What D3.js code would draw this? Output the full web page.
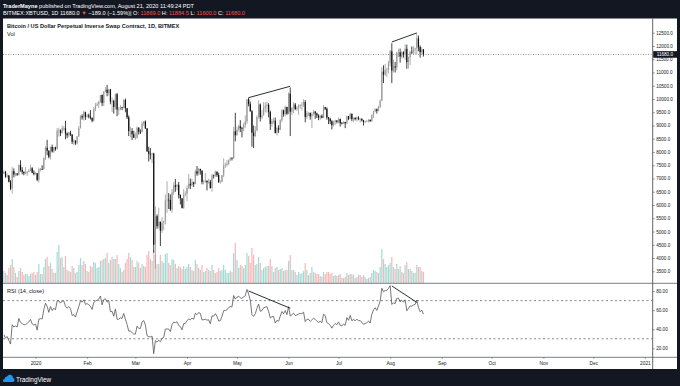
<!DOCTYPE html>
<html>
<head>
<meta charset="utf-8">
<script src="https://cdn.jsdelivr.net/npm/d3@7"></script>
<style>
  body { margin: 0; background: #131722; }
  svg { display: block; font-family: "Liberation Sans", Arial, sans-serif; }
</style>
</head>
<body>
<svg id="chart" width="680" height="386"></svg>
<script>
// daily bars of BITMEX:XBTUSD, first bar 2019-12-13, last bar 2020-08-21
var firstDay = "2019-12-13";

// closes before the first visible bar, only used to warm up the RSI
var warmupCloses = [8760, 8630, 8460, 8490, 8500, 8170, 8120, 8080, 7620, 7280, 7320, 6900, 7130, 7160, 7520,
  7430, 7750, 7560, 7400, 7310, 7300, 7200, 7390, 7540, 7510, 7520, 7340, 7220, 7200, 7190];

var highs = [
  // Dec
  7310, 7290, 7190, 7140, 6940, 7440, 7380, 7220, 7200, 7530, 7690, 7430, 7270, 7430, 7280, 7360, 7520, 7430, 7310,
  // Jan
  7250, 7210, 7410, 7400, 7500, 7800, 8220, 8460, 8060, 8200, 8280, 8190, 8200, 8900, 8920, 8850, 9000, 8980, 9180, 8740,
  8760, 8800, 8670, 8500, 8440, 8600, 8980, 9390, 9420, 9560, 9520,
  // Feb
  9430, 9450, 9580, 9300, 9700, 9850, 9870, 9940, 10160, 10170, 10300, 10450, 10530, 10380, 10380, 10060, 9970, 10200,
  10230, 9700, 9770, 9700, 9990, 10020, 9660, 9380, 8950, 8900, 8800,
  // Mar
  8740, 8960, 8940, 8850, 9140, 9170, 9190, 8900, 8200, 8150, 7970, 7970, 5950, 5650, 5900, 5370, 5550, 5400, 6400, 6900,
  6450, 6400, 6600, 6860, 6980, 6800, 6870, 6400, 6260, 6600, 6520,
  // Apr
  6740, 7170, 7000, 6980, 6880, 7340, 7470, 7400, 7370, 7300, 6950, 7200, 6920, 6990, 6950, 7180, 7150, 7300, 7260, 7220,
  6940, 7140, 7760, 7600, 7700, 7720, 7800, 7800, 8950, 9480,
  // May
  8950, 9030, 9200, 8950, 9100, 9380, 9980, 10050, 9900, 9580, 9000, 8980, 9380, 9950, 9830, 9580, 9880, 9880, 9890, 9840,
  9560, 9250, 9300, 9300, 8960, 9010, 9230, 9620, 9600, 9750, 9700,
  // Jun
  10250, 10430, 9700, 9880, 9850, 9730, 9800, 9800, 9880, 9990, 9960, 9550, 9500, 9490, 9500, 9580, 9550, 9480, 9420, 9400,
  9420, 9770, 9700, 9680, 9320, 9290, 9200, 9180, 9220, 9200,
  // Jul
  9300, 9260, 9130, 9160, 9140, 9370, 9360, 9480, 9450, 9300, 9310, 9340, 9350, 9280, 9270, 9210, 9180, 9200, 9240, 9230,
  9420, 9550, 9650, 9640, 9740, 9980, 11200, 11270, 11320, 11180, 11440,
  // Aug
  11850, 12100, 11480, 11400, 11780, 11900, 11900, 11800, 11800, 12060, 12050, 11600, 11800, 11980, 11990, 11940, 12470,
  12390, 12020, 11950, 11884.5
];

var lows = [
  // Dec
  7170, 7030, 7020, 6850, 6560, 6430, 7040, 7080, 7100, 7120, 7260, 7160, 7120, 7160, 7090, 7230, 7270, 7200, 7120,
  // Jan
  7150, 6900, 6850, 7270, 7320, 7340, 7700, 7880, 7760, 7720, 7980, 7970, 8050, 8100, 8580, 8600, 8690, 8800, 8480, 8520,
  8550, 8600, 8300, 8250, 8270, 8280, 8560, 8880, 9220, 9180, 9210,
  // Feb
  9300, 9270, 9230, 9120, 9150, 9540, 9720, 9650, 9860, 9730, 9740, 10250, 10100, 10130, 9800, 9500, 9450, 9600, 9350,
  9400, 9580, 9580, 9650, 9500, 9250, 8600, 8550, 8450, 8530,
  // Mar
  8450, 8500, 8660, 8680, 8740, 8990, 8870, 8000, 7640, 7720, 7580, 4200, 3600, 5100, 5120, 4450, 4950, 5050, 5270, 5700,
  5850, 5780, 5700, 6380, 6500, 6550, 6250, 6020, 5880, 5860, 6330,
  // Apr
  6150, 6600, 6600, 6700, 6680, 6790, 7100, 7120, 7150, 6780, 6780, 6830, 6550, 6800, 6620, 6500, 7000, 7050, 7060, 6840,
  6810, 6860, 7050, 7400, 7450, 7500, 7650, 7680, 7740, 8400,
  // May
  8620, 8780, 8750, 8550, 8780, 8920, 9050, 9720, 9520, 8200, 8150, 8570, 8780, 9260, 9150, 9240, 9380, 9500, 9480, 9310,
  8830, 8950, 9070, 8700, 8620, 8720, 8830, 9120, 9330, 9360, 9400,
  // Jun
  9420, 8600, 9400, 9470, 9580, 9550, 9400, 9630, 9560, 9700, 9120, 9250, 9360, 9220, 8900, 9380, 9250, 9280, 9200, 9200,
  9270, 9280, 9580, 9220, 9050, 9050, 8850, 8960, 9020, 9080,
  // Jul
  9080, 8960, 9040, 9050, 8900, 9060, 9200, 9230, 9160, 9120, 9190, 9150, 9200, 9110, 9150, 9000, 9090, 9130, 9110, 9140,
  9150, 9280, 9500, 9450, 9540, 9660, 9930, 10600, 10880, 10830, 10970,
  // Aug
  11230, 10600, 11000, 11000, 11080, 11580, 11370, 11520, 11560, 11480, 11140, 11150, 11280, 11700, 11690, 11700, 11690,
  11800, 11560, 11650, 11600
];

var closes = [
  // Dec
  7250, 7070, 7110, 6880, 6620, 7280, 7150, 7190, 7140, 7510, 7320, 7250, 7200, 7200, 7250, 7300, 7390, 7220, 7170,
  // Jan
  7200, 6950, 7340, 7360, 7350, 7760, 8160, 8050, 7820, 8190, 8020, 8180, 8110, 8810, 8810, 8720, 8900, 8900, 8700, 8630,
  8730, 8660, 8390, 8430, 8330, 8590, 8900, 9350, 9300, 9500, 9330,
  // Feb
  9380, 9340, 9290, 9180, 9620, 9750, 9800, 9890, 10150, 9850, 10270, 10350, 10230, 10360, 9900, 9930, 9700, 10180, 9600,
  9600, 9690, 9660, 9960, 9650, 9310, 8790, 8790, 8670, 8540,
  // Mar
  8540, 8910, 8760, 8750, 9070, 9150, 8890, 8030, 7930, 7900, 7940, 4500, 5580, 5200, 5370, 5030, 5330, 5400, 6180, 6200,
  6190, 5830, 6480, 6740, 6690, 6760, 6380, 6250, 5880, 6400, 6420,
  // Apr
  6640, 6800, 6740, 6860, 6790, 7270, 7180, 7360, 7300, 6870, 6890, 6920, 6860, 6880, 6640, 7120, 7100, 7260, 7130, 6860,
  6880, 7120, 7490, 7510, 7550, 7700, 7780, 7760, 8780, 8630,
  // May
  8830, 8970, 8900, 8880, 9030, 9150, 9990, 9810, 9540, 8730, 8600, 8820, 9320, 9790, 9310, 9380, 9670, 9730, 9780, 9510,
  9060, 9170, 9180, 8720, 8900, 8840, 9200, 9570, 9430, 9700, 9450,
  // Jun
  10200, 9520, 9660, 9790, 9620, 9670, 9750, 9780, 9780, 9880, 9320, 9470, 9470, 9340, 9430, 9520, 9460, 9380, 9300, 9360,
  9290, 9690, 9630, 9300, 9250, 9160, 9010, 9120, 9190, 9140,
  // Jul
  9240, 9090, 9070, 9130, 9080, 9350, 9250, 9440, 9240, 9290, 9240, 9300, 9240, 9250, 9190, 9130, 9150, 9170, 9210, 9160,
  9390, 9530, 9610, 9550, 9710, 9930, 11030, 10920, 11100, 11110, 11350,
  // Aug
  11800, 11070, 11230, 11190, 11740, 11760, 11600, 11760, 11680, 11890, 11390, 11570, 11780, 11770, 11870, 11910, 12290,
  11960, 11760, 11869, 11680
];

// volume in billions of contracts
var volumes = [
  // Dec
  1.2, 1.0, 0.8, 1.5, 1.8, 2.4, 1.6, 1.0, 0.6, 1.2, 1.5, 1.1, 0.8, 0.9, 0.9, 0.7, 0.9, 1.0, 1.1,
  // Jan
  0.8, 1.1, 1.9, 0.9, 0.9, 1.6, 2.4, 2.6, 1.7, 2.0, 1.4, 1.0, 1.0, 3.1, 3.8, 2.5, 2.6, 1.6, 2.7, 1.3, 1.2, 1.1, 1.7, 1.5,
  1.0, 1.1, 1.8, 2.5, 1.8, 2.2, 1.9,
  // Feb
  1.2, 1.1, 1.7, 1.6, 2.1, 2.0, 1.5, 1.6, 2.2, 2.3, 2.4, 2.5, 3.0, 2.0, 2.3, 2.6, 2.4, 2.4, 2.8, 1.9, 1.5, 1.1, 1.3, 2.0,
  2.4, 3.0, 2.6, 2.3, 1.6,
  // Mar
  1.6, 2.2, 2.0, 1.5, 1.9, 1.7, 1.6, 2.8, 3.2, 2.4, 2.2, 3.3, 2.8, 1.9, 1.9, 2.8, 2.2, 2.0, 2.9, 3.0, 2.0, 1.8, 2.4, 2.3,
  1.9, 1.5, 1.7, 1.6, 1.4, 1.7, 1.4,
  // Apr
  1.6, 1.9, 1.6, 1.3, 1.2, 2.3, 1.9, 1.5, 1.3, 1.8, 1.1, 1.2, 1.5, 1.3, 1.2, 1.8, 1.3, 1.0, 1.1, 1.5, 1.2, 1.3, 1.8, 1.3,
  1.0, 1.0, 1.2, 1.1, 3.0, 4.0,
  // May
  2.3, 1.5, 1.8, 1.7, 1.5, 1.8, 3.0, 2.7, 2.0, 3.5, 2.8, 1.8, 1.9, 2.6, 2.0, 1.3, 1.5, 1.6, 1.7, 1.7, 2.4, 1.7, 1.1, 1.5,
  1.6, 1.3, 1.4, 1.5, 1.2, 1.3, 1.3,
  // Jun
  2.2, 2.8, 1.3, 1.3, 1.1, 0.8, 1.1, 0.9, 1.0, 1.2, 2.0, 1.3, 0.8, 1.0, 1.6, 1.1, 1.0, 0.9, 0.9, 0.7, 0.6, 1.1, 0.9, 1.1,
  1.1, 0.9, 1.0, 0.7, 0.8, 0.7,
  // Jul
  0.8, 0.9, 0.5, 0.5, 0.6, 1.0, 0.8, 0.9, 0.9, 0.8, 0.5, 0.6, 0.8, 0.8, 0.6, 0.8, 0.6, 0.4, 0.5, 0.6, 1.0, 1.3, 1.2, 1.1,
  1.0, 1.6, 3.4, 2.4, 1.9, 1.6, 1.8,
  // Aug
  2.0, 2.6, 1.6, 1.4, 1.9, 1.4, 1.7, 1.1, 1.0, 1.8, 2.1, 1.4, 1.4, 1.2, 1.0, 1.0, 1.8, 1.6, 1.6, 1.2, 1.1
];

var priceTicks = [3500, 4000, 4500, 5000, 5500, 6000, 6500, 7000, 7500, 8000, 8500, 9000, 9500, 10000, 10500, 11000,
  11500, 12000, 12500];
var rsiTicks = [20, 40, 60, 80];
var rsiBands = [70, 30];
var monthStarts = ["2020-01-01", "2020-02-01", "2020-03-01", "2020-04-01", "2020-05-01", "2020-06-01", "2020-07-01",
  "2020-08-01", "2020-09-01", "2020-10-01", "2020-11-01", "2020-12-01", "2021-01-01"];
var monthLabels = ["2020", "Feb", "Mar", "Apr", "May", "Jun", "Jul", "Aug", "Sep", "Oct", "Nov", "Dec", "2021"];
var lastPrice = 11680;

// hand drawn trend lines
var priceLines = [
  [["2020-05-08", 10050], ["2020-06-02", 10480]],
  [["2020-08-02", 12150], ["2020-08-17", 12490]]
];
var rsiLines = [
  [["2020-05-08", 80.1], ["2020-06-02", 62]],
  [["2020-08-02", 85.4], ["2020-08-17", 68.2]]
];

var svg = d3.select("#chart");
var day = 864e5;
var t0 = Date.parse(firstDay);
var bars = closes.map(function(c, i) {
  return {
    date: new Date(t0 + i * day),
    open: i == 0 ? warmupCloses[warmupCloses.length - 1] : closes[i - 1],
    high: highs[i], low: lows[i], close: c, vol: volumes[i]
  };
});

// RSI(14) on the closes, Wilder smoothing
var all = warmupCloses.concat(closes);
var ag = 0, al = 0, rsiAll = [];
for (var i = 1; i < all.length; i++) {
  var ch = all[i] - all[i - 1];
  var g = Math.max(ch, 0), l = Math.max(-ch, 0);
  if (i <= 14) { ag += g / 14; al += l / 14; }
  else { ag = (ag * 13 + g) / 14; al = (al * 13 + l) / 14; }
  if (i >= 14) rsiAll[i] = al == 0 ? 100 : 100 - 100 / (1 + ag / al);
}
bars.forEach(function(b, i) { b.rsi = rsiAll[warmupCloses.length + i]; });

var plotL = 3, plotR = 652.7, paneT = 18.5, paneSplit = 283.3, rsiB = 357.3, frameB = 369;

var x = d3.scaleUtc().domain([Date.parse("2020-01-01"), Date.parse("2021-01-01")]).range([35.5, 644.9]);
var y = d3.scaleLinear().domain([3500, 12500]).range([271.3, 32.7]);
var yVol = d3.scaleLinear().domain([0, 4]).range([283, 243]);
var yRsi = d3.scaleLinear().domain([20, 80]).range([348.3, 291.1]);

// frame
svg.append("rect").attr("width", 680).attr("height", 386).attr("fill", "#131722");
svg.append("rect").attr("x", plotL).attr("y", paneT).attr("width", 677 - plotL).attr("height", frameB - paneT)
  .attr("fill", "#fff");

var defs = svg.append("defs");
defs.append("clipPath").attr("id", "clipMain").append("rect")
  .attr("x", plotL).attr("y", paneT).attr("width", plotR - plotL).attr("height", paneSplit - paneT);
defs.append("clipPath").attr("id", "clipRsi").append("rect")
  .attr("x", plotL).attr("y", paneSplit).attr("width", plotR - plotL).attr("height", rsiB - paneSplit);

// header
var head = svg.append("g").attr("fill", "#fff").attr("font-size", 5.6);
var h1 = head.append("text").attr("x", 3).attr("y", 7.7);
h1.append("tspan").attr("font-weight", "bold").text("TraderMayne");
h1.append("tspan").text(" published on TradingView.com, August 21, 2020 11:49:24 PDT");
var h2 = head.append("text").attr("x", 3).attr("y", 15.2);
h2.append("tspan").text("BITMEX:XBTUSD, 1D  11680.0 ");
h2.append("tspan").attr("fill", "#ef5350").text("▼");
h2.append("tspan").text(" −189.0 (−1.59%)| O: ");
h2.append("tspan").attr("fill", "#ef5350").text("11869.0");
h2.append("tspan").text(" H: ");
h2.append("tspan").attr("fill", "#ef5350").text("11884.5");
h2.append("tspan").text(" L: ");
h2.append("tspan").attr("fill", "#ef5350").text("11600.0");
h2.append("tspan").text(" C: ");
h2.append("tspan").attr("fill", "#ef5350").text("11680.0");

// main pane
var main = svg.append("g").attr("clip-path", "url(#clipMain)");

main.selectAll(".vol").data(bars).enter().append("rect")
  .attr("x", function(d) { return x(d.date) - 0.6; })
  .attr("width", 1.2)
  .attr("y", function(d) { return yVol(d.vol); })
  .attr("height", function(d) { return yVol(0) - yVol(d.vol); })
  .attr("fill", function(d) { return d.close >= d.open ? "rgba(38,166,154,0.42)" : "rgba(239,83,80,0.42)"; });

main.append("line").attr("x1", plotL).attr("x2", plotR).attr("y1", y(lastPrice)).attr("y2", y(lastPrice))
  .attr("stroke", "#787b86").attr("stroke-width", 0.8).attr("stroke-dasharray", "1,1.5");

var candle = main.selectAll(".candle").data(bars).enter().append("g");
candle.append("line")
  .attr("x1", function(d) { return x(d.date); }).attr("x2", function(d) { return x(d.date); })
  .attr("y1", function(d) { return y(d.high); }).attr("y2", function(d) { return y(d.low); })
  .attr("stroke", function(d) { return d.close >= d.open ? "#9a9a9a" : "#111"; })
  .attr("stroke-width", 0.8);
candle.append("rect")
  .attr("x", function(d) { return x(d.date) - 0.6; })
  .attr("width", 1.2)
  .attr("y", function(d) { return y(Math.max(d.open, d.close)); })
  .attr("height", function(d) { return Math.max(0.6, Math.abs(y(d.open) - y(d.close))); })
  .attr("fill", function(d) { return d.close >= d.open ? "#9a9a9a" : "#111"; });

main.selectAll(".tl").data(priceLines).enter().append("line")
  .attr("x1", function(d) { return x(Date.parse(d[0][0])); }).attr("y1", function(d) { return y(d[0][1]); })
  .attr("x2", function(d) { return x(Date.parse(d[1][0])); }).attr("y2", function(d) { return y(d[1][1]); })
  .attr("stroke", "#131722").attr("stroke-width", 0.9);

svg.append("text").attr("x", 7).attr("y", 28).attr("font-size", 5.6).attr("font-weight", "bold")
  .attr("fill", "#131722").text("Bitcoin / US Dollar Perpetual Inverse Swap Contract, 1D, BITMEX");
svg.append("text").attr("x", 7).attr("y", 35.6).attr("font-size", 5.6).attr("fill", "#131722").text("Vol");

// RSI pane
var rsiG = svg.append("g").attr("clip-path", "url(#clipRsi)");
rsiG.selectAll(".band").data(rsiBands).enter().append("line")
  .attr("x1", plotL).attr("x2", plotR)
  .attr("y1", function(d) { return yRsi(d); }).attr("y2", function(d) { return yRsi(d); })
  .attr("stroke", "#787b86").attr("stroke-width", 0.9).attr("stroke-dasharray", "2,2.5");
rsiG.append("path").datum(bars)
  .attr("fill", "none").attr("stroke", "#555").attr("stroke-width", 0.8)
  .attr("d", d3.line().x(function(d) { return x(d.date); }).y(function(d) { return yRsi(d.rsi); }));
rsiG.selectAll(".rl").data(rsiLines).enter().append("line")
  .attr("x1", function(d) { return x(Date.parse(d[0][0])); }).attr("y1", function(d) { return yRsi(d[0][1]); })
  .attr("x2", function(d) { return x(Date.parse(d[1][0])); }).attr("y2", function(d) { return yRsi(d[1][1]); })
  .attr("stroke", "#131722").attr("stroke-width", 0.9);
svg.append("text").attr("x", 7).attr("y", 292.6).attr("font-size", 5.6).attr("fill", "#131722").text("RSI (14, close)");

// separators
svg.append("line").attr("x1", plotL).attr("x2", 677).attr("y1", paneSplit).attr("y2", paneSplit)
  .attr("stroke", "#9598a1").attr("stroke-width", 1.2);
svg.append("line").attr("x1", plotL).attr("x2", 677).attr("y1", rsiB).attr("y2", rsiB)
  .attr("stroke", "#9598a1").attr("stroke-width", 1.2);

// price axis
var pAxis = svg.append("g").attr("transform", "translate(" + plotR + ",0)")
  .call(d3.axisRight(y).tickValues(priceTicks).tickSize(2).tickPadding(1.5)
    .tickFormat(function(d) { return d.toFixed(1); }));
var rAxis = svg.append("g").attr("transform", "translate(" + plotR + ",0)")
  .call(d3.axisRight(yRsi).tickValues(rsiTicks).tickSize(2).tickPadding(1.5)
    .tickFormat(function(d) { return d.toFixed(2); }));
[pAxis, rAxis].forEach(function(a) {
  a.select(".domain").remove();
  a.selectAll("line").attr("stroke", "#555").attr("stroke-width", 0.6);
  a.selectAll("text").attr("font-size", 4.6).attr("fill", "#131722")
    .attr("font-family", "Liberation Sans, Arial, sans-serif");
});
svg.append("line").attr("x1", plotR).attr("x2", plotR).attr("y1", paneT).attr("y2", frameB)
  .attr("stroke", "#555").attr("stroke-width", 0.9);

// last price label
svg.append("rect").attr("x", plotR + 0.5).attr("y", y(lastPrice) - 3.3).attr("width", 24).attr("height", 6.6)
  .attr("fill", "#131722");
svg.append("text").attr("x", plotR + 4).attr("y", y(lastPrice) + 1.7).attr("font-size", 4.6).attr("fill", "#fff")
  .text(lastPrice.toFixed(1));

// time axis
var tAxis = svg.append("g").attr("transform", "translate(0," + rsiB + ")")
  .call(d3.axisBottom(x).tickValues(monthStarts.map(function(d) { return Date.parse(d); }))
    .tickSize(1.5).tickPadding(2.5)
    .tickFormat(function(d, i) { return monthLabels[i]; }));
tAxis.select(".domain").remove();
tAxis.selectAll("line").attr("stroke", "#555").attr("stroke-width", 0.6);
tAxis.selectAll("text").attr("font-size", 4.8).attr("fill", "#131722")
  .attr("font-family", "Liberation Sans, Arial, sans-serif");

// footer logo
var logo = svg.append("g").attr("transform", "translate(3,374)");
logo.append("path")
  .attr("d", "M1,8 Q0,8 0,6.5 Q0,5 1.6,5 Q1.6,2.5 4,2.5 Q5,0.3 7.5,0.8 Q10,1.3 10,4 Q11.6,4.3 11.6,6 Q11.6,8 10,8 Z")
  .attr("fill", "#2196f3");
logo.append("text").attr("x", 13).attr("y", 7.6).attr("font-size", 6.4).attr("fill", "#fff").text("TradingView");
</script>
</body>
</html>
